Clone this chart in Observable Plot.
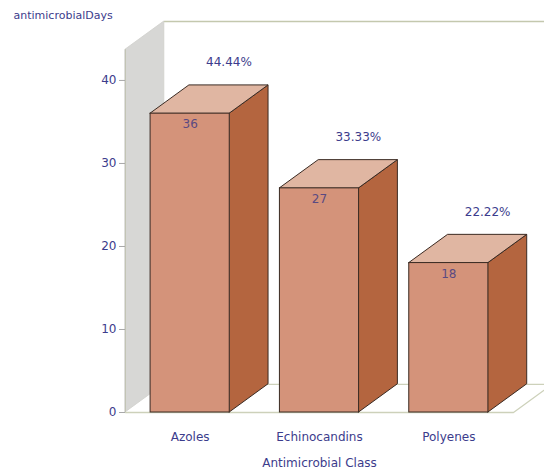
<!DOCTYPE html>
<html>
<head>
<meta charset="utf-8">
<script src="https://cdn.jsdelivr.net/npm/d3@7"></script>
<script src="https://cdn.jsdelivr.net/npm/@observablehq/plot@0.6"></script>
<style>
  html, body { margin: 0; padding: 0; background: #fff; }
  #chart svg { display: block; }
</style>
</head>
<body>
<div id="chart"></div>
<script>
// ---- data ----
const categories = ["Azoles", "Echinocandins", "Polyenes"];
const days = [36, 27, 18];
const percentLabels = ["44.44%", "33.33%", "22.22%"];
const yTicks = [0, 10, 20, 30, 40];
const yTitle = "antimicrobialDays";
const xTitle = "Antimicrobial Class";

// ---- layout constants (3D look) ----
const HW = 0.306;   // half bar width (x units)
const DX = 0.3;     // depth offset in x units
const DY = 3.4;     // depth offset in y units
const YMAX = 47.1;
const WALLTOP = YMAX - DY;
const TXT = "#3c3c8c";
const EDGE = "#3a2a22";

const bars = categories.map((c, i) => ({c, i, v: days[i], p: percentLabels[i]}));
const sides = bars.flatMap(b => [
  {c: b.c, x: b.i + HW, y1: 0, y2: b.v},
  {c: b.c, x: b.i + HW + DX, y1: DY, y2: b.v + DY}
]);
const tops = bars.flatMap(b => [
  {c: b.c, y: b.v, x1: b.i - HW, x2: b.i + HW},
  {c: b.c, y: b.v + DY, x1: b.i - HW + DX, x2: b.i + HW + DX}
]);
const wall = [
  {x: -0.5, y1: 0, y2: WALLTOP},
  {x: -0.5 + DX, y1: DY, y2: YMAX}
];
const floor = [
  {x: -0.5 + DX, y: DY}, {x: 2.5 + DX, y: DY}, {x: 2.5, y: 0}, {x: -0.5, y: 0}
];
const backTop = [{x: -0.5 + DX, y: YMAX}, {x: 2.5 + DX + 0.1, y: YMAX}];

const chart = Plot.plot({
  width: 544,
  height: 471,
  marginLeft: 125,
  marginRight: 31,
  marginTop: 21,
  marginBottom: 59,
  style: {fontFamily: "'DejaVu Sans', sans-serif", fontSize: "12px", background: "#fff"},
  x: {domain: [-0.5, 2.5], axis: null},
  y: {domain: [0, YMAX], axis: null},
  marks: [
    // back wall top edge
    Plot.line(backTop, {x: "x", y: "y", stroke: "#c4c8ae", strokeWidth: 1.6}),
    // floor
    Plot.line(floor, {x: "x", y: "y", stroke: "#cdd1ba", strokeWidth: 1.3}),
    // left wall
    Plot.areaY(wall, {x: "x", y1: "y1", y2: "y2", fill: "#d7d7d5", stroke: "#cfcfcc", strokeWidth: 0.8}),
    // axis line
    Plot.ruleX([-0.5], {y1: 0, y2: WALLTOP, stroke: "#c2c4b4"}),
    Plot.axisY({ticks: yTicks, tickSize: 6, tickPadding: 3, stroke: "#a8a8a8", fill: TXT, label: null, fontSize: 12}),
    Plot.axisX({ticks: [0, 1, 2], tickFormat: i => categories[i], tickSize: 0, tickPadding: 20, fill: TXT, label: null, fontSize: 12}),
    // bars: side, top, front
    Plot.areaY(sides, {x: "x", y1: "y1", y2: "y2", z: "c", fill: "#b4653f", stroke: EDGE, strokeWidth: 1}),
    Plot.areaX(tops, {y: "y", x1: "x1", x2: "x2", z: "c", fill: "#e0b6a2", stroke: EDGE, strokeWidth: 1}),
    Plot.rect(bars, {x1: d => d.i - HW, x2: d => d.i + HW, y1: 0, y2: "v", fill: "#d4937a", stroke: EDGE, strokeWidth: 1}),
    // labels
    Plot.text(bars, {x: "i", y: "v", text: d => String(d.v), dy: 11, fill: "#5a4a82", fontSize: 12}),
    Plot.text(bars, {x: d => d.i + DX, y: d => d.v + DY, text: "p", dy: -23, fill: TXT, fontSize: 12}),
    Plot.text([yTitle], {frameAnchor: "top-left", textAnchor: "start", lineAnchor: "middle", dx: -112, dy: -6, fill: TXT, fontSize: 11}),
    Plot.text([xTitle], {frameAnchor: "bottom", lineAnchor: "middle", dy: 51, fill: TXT, fontSize: 12})
  ]
});
document.getElementById("chart").append(chart);
</script>
</body>
</html>
